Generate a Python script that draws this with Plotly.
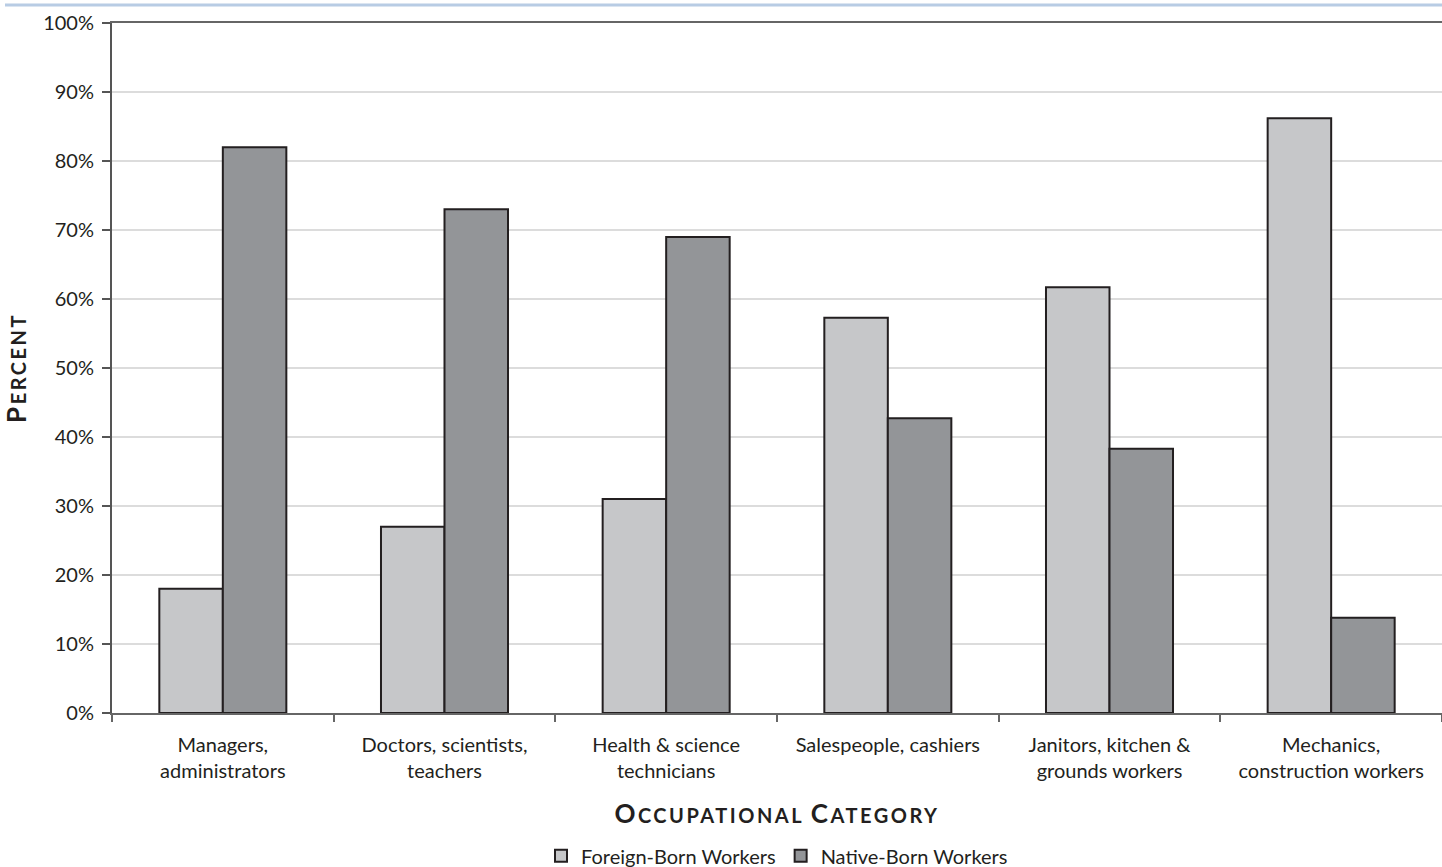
import plotly.graph_objects as go

categories = [
    "Managers,<br>administrators",
    "Doctors, scientists,<br>teachers",
    "Health & science<br>technicians",
    "Salespeople, cashiers",
    "Janitors, kitchen &<br>grounds workers",
    "Mechanics,<br>construction workers",
]
foreign_born = [18, 27, 31, 57.3, 61.7, 86.2]
native_born = [82, 73, 69, 42.7, 38.3, 13.8]
y_ticks = [0, 10, 20, 30, 40, 50, 60, 70, 80, 90, 100]
y_tick_labels = [f"{v}%" for v in y_ticks]

FONT = "Lato"
TEXT = "#231f20"
EDGE = "#231f20"

fig = go.Figure()
fig.add_trace(go.Bar(
    x=categories, y=foreign_born, name="Foreign-Born Workers",
    marker=dict(color="#c6c7c9", line=dict(color=EDGE, width=2)),
))
fig.add_trace(go.Bar(
    x=categories, y=native_born, name="Native-Born Workers",
    marker=dict(color="#939598", line=dict(color=EDGE, width=2)),
))

SC = "letter-spacing:2.5px"
fig.update_layout(
    width=1442, height=867,
    margin=dict(l=112, r=0, t=23, b=154, autoexpand=False),
    paper_bgcolor="white", plot_bgcolor="white",
    barmode="group", bargap=0.427, bargroupgap=0,
    font=dict(family=FONT, color=TEXT, size=18),
    showlegend=True,
    legend=dict(orientation="h", x=0.5, xanchor="center", y=-0.207, yanchor="middle",
                font=dict(size=20, color=TEXT), tracegroupgap=0),
    xaxis=dict(
        range=[-0.5, 5.5], automargin=False,
        showline=True, linecolor="#666666", linewidth=2, mirror=True,
        ticks="outside", tickson="boundaries", ticklen=7, tickcolor="#666666", tickwidth=1.5,
        tickfont=dict(size=20, color=TEXT), ticklabelstandoff=13,
        showgrid=False,
        title=dict(
            text=f"<span style='{SC}'><span style='font-size:26px'>O</span>CCUPATIONAL "
                 f"<span style='font-size:26px'>C</span>ATEGORY</span>",
            font=dict(size=20, color=TEXT, weight="bold"), standoff=28),
    ),
    yaxis=dict(
        range=[0, 100], automargin=False,
        tickvals=y_ticks, ticktext=y_tick_labels,
        showline=True, linecolor="#555555", linewidth=2,
        ticks="outside", ticklen=8, tickcolor="#555555", tickwidth=1.5,
        tickfont=dict(size=20, color=TEXT),
        ticklabelstandoff=4,
        showgrid=True, gridcolor="#dcdcdc", gridwidth=1.5,
        zeroline=False,
        title=dict(
            text=f"<span style='{SC}'><span style='font-size:26px'>P</span>ERCENT</span>",
            font=dict(size=20, color=TEXT, weight="bold"), standoff=16),
    ),
)

# decorative light-blue frame line at the top of the figure
fig.add_shape(type="line", xref="paper", yref="paper",
              x0=(5 - 112) / 1330, x1=1.01, y0=(713 - 5) / 690, y1=(713 - 5) / 690,
              line=dict(color="#b8cce4", width=3))

fig.write_html("out.html", config={"displayModeBar": False},
               post_script="document.body.style.margin='0';")
